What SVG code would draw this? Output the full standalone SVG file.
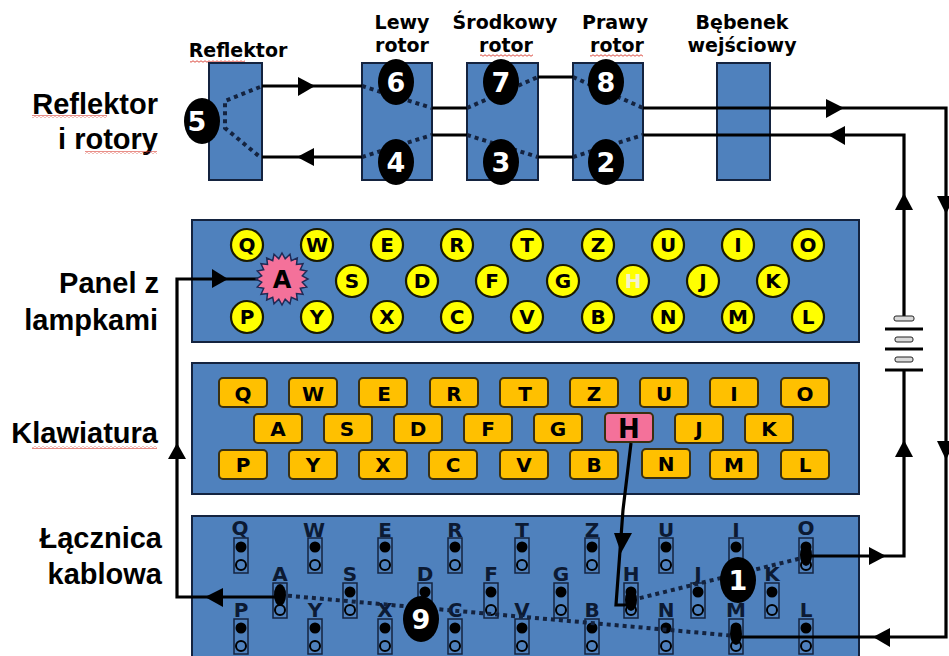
<svg xmlns="http://www.w3.org/2000/svg" width="949" height="656" viewBox="0 0 949 656">
<style>
.box{fill:#4f81bd;stroke:#14233f;stroke-width:2}
.wire{fill:none;stroke:#000;stroke-width:3.2}
.dot{fill:none;stroke:#14233f;stroke-width:4;stroke-dasharray:4 4}
.head{fill:#000}
.blob{fill:#000}
.num{font:bold 27px "DejaVu Sans",sans-serif;fill:#fff;text-anchor:middle}
.side{font:bold 29px "Liberation Sans",Arial,sans-serif;fill:#000;text-anchor:end}
.cap{font:bold 19px "DejaVu Sans",sans-serif;fill:#000;text-anchor:middle}
.lamp{fill:#ffff00;stroke:#1a1a00;stroke-width:2.2}
.key{fill:#ffc000;stroke:#3a3010;stroke-width:2}
.ltr{font:bold 20px "DejaVu Sans",sans-serif;fill:#000;text-anchor:middle}
.plug{font:bold 20px "DejaVu Sans",sans-serif;fill:#0c1a33;text-anchor:middle}
.sock{fill:none;stroke:#14233f;stroke-width:1.5}
.hole{fill:none;stroke:#000;stroke-width:2}
.pin{fill:#000}
.cell{fill:#d9d9d9;stroke:#222;stroke-width:1}
</style>
<defs>
<g id="s"><rect class="sock" x="-7" y="0" width="14" height="35"/><circle class="pin" cx="0" cy="9" r="5.5"/><circle class="hole" cx="0" cy="27" r="5"/></g>
<pattern id="wave" width="4" height="3" patternUnits="userSpaceOnUse"><path d="M0 1.5Q1 0 2 1.5T4 1.5" fill="none" stroke="#d8392b" stroke-width="0.9"/></pattern>
</defs>

<g id="labels">
<text class="side" x="158" y="114">Reflektor</text>
<text class="side" x="158" y="149">i rotory</text>
<text class="side" x="159" y="293">Panel z</text>
<text class="side" x="158" y="330">lampkami</text>
<text class="side" x="158" y="443">Klawiatura</text>
<text class="side" x="162" y="548">Łącznica</text>
<text class="side" x="162" y="584">kablowa</text>
<text class="cap" x="238" y="57">Reflektor</text>
<text class="cap" x="402" y="29">Lewy</text>
<text class="cap" x="402" y="52">rotor</text>
<text class="cap" x="505" y="29">Środkowy</text>
<text class="cap" x="506" y="52">rotor</text>
<text class="cap" x="615" y="29">Prawy</text>
<text class="cap" x="617" y="52">rotor</text>
<text class="cap" x="742" y="29">Bębenek</text>
<text class="cap" x="742" y="52">wejściowy</text>
<rect fill="url(#wave)" x="32" y="115" width="75" height="3"/>
<rect fill="url(#wave)" x="85" y="151" width="72" height="3"/>
<rect fill="url(#wave)" x="32" y="446" width="125" height="3"/>
<rect fill="url(#wave)" x="190" y="60" width="55" height="3"/>
<rect fill="url(#wave)" x="480" y="54" width="53" height="3"/>
<rect fill="url(#wave)" x="590" y="54" width="53" height="3"/>
</g>

<g id="rotor-reflektor"><rect class="box" x="209" y="63" width="53" height="117"/></g>
<g id="rotor-lewy"><rect class="box" x="362" y="63" width="70" height="117"/></g>
<g id="rotor-srodkowy"><rect class="box" x="467" y="63" width="71" height="117"/></g>
<g id="rotor-prawy"><rect class="box" x="573" y="63" width="70" height="117"/></g>
<g id="rotor-bebenek"><rect class="box" x="717" y="63" width="53" height="117"/></g>

<g id="panel">
<rect class="box" x="192" y="220" width="667" height="122"/>
<g id="lamps">
<circle class="lamp" cx="247" cy="245" r="16"/><text class="ltr" x="247" y="252">Q</text>
<circle class="lamp" cx="317" cy="245" r="16"/><text class="ltr" x="317" y="252">W</text>
<circle class="lamp" cx="387" cy="245" r="16"/><text class="ltr" x="387" y="252">E</text>
<circle class="lamp" cx="457" cy="245" r="16"/><text class="ltr" x="457" y="252">R</text>
<circle class="lamp" cx="527" cy="245" r="16"/><text class="ltr" x="527" y="252">T</text>
<circle class="lamp" cx="598" cy="245" r="16"/><text class="ltr" x="598" y="252">Z</text>
<circle class="lamp" cx="668" cy="245" r="16"/><text class="ltr" x="668" y="252">U</text>
<circle class="lamp" cx="738" cy="245" r="16"/><text class="ltr" x="738" y="252">I</text>
<circle class="lamp" cx="808" cy="245" r="16"/><text class="ltr" x="808" y="252">O</text>
<circle class="lamp" cx="352" cy="281" r="16"/><text class="ltr" x="352" y="288">S</text>
<circle class="lamp" cx="422" cy="281" r="16"/><text class="ltr" x="422" y="288">D</text>
<circle class="lamp" cx="492" cy="281" r="16"/><text class="ltr" x="492" y="288">F</text>
<circle class="lamp" cx="563" cy="281" r="16"/><text class="ltr" x="563" y="288">G</text>
<circle class="lamp" cx="633" cy="281" r="16"/><text class="ltr" x="633" y="288" style="fill:#f2f2d0">H</text>
<circle class="lamp" cx="703" cy="281" r="16"/><text class="ltr" x="703" y="288">J</text>
<circle class="lamp" cx="773" cy="281" r="16"/><text class="ltr" x="773" y="288">K</text>
<circle class="lamp" cx="247" cy="317" r="16"/><text class="ltr" x="247" y="324">P</text>
<circle class="lamp" cx="317" cy="317" r="16"/><text class="ltr" x="317" y="324">Y</text>
<circle class="lamp" cx="387" cy="317" r="16"/><text class="ltr" x="387" y="324">X</text>
<circle class="lamp" cx="457" cy="317" r="16"/><text class="ltr" x="457" y="324">C</text>
<circle class="lamp" cx="527" cy="317" r="16"/><text class="ltr" x="527" y="324">V</text>
<circle class="lamp" cx="598" cy="317" r="16"/><text class="ltr" x="598" y="324">B</text>
<circle class="lamp" cx="668" cy="317" r="16"/><text class="ltr" x="668" y="324">N</text>
<circle class="lamp" cx="738" cy="317" r="16"/><text class="ltr" x="738" y="324">M</text>
<circle class="lamp" cx="808" cy="317" r="16"/><text class="ltr" x="808" y="324">L</text>
</g>
</g>

<g id="keyboard">
<rect class="box" x="192" y="363" width="667" height="131"/>
<g id="keys">
<rect class="key" x="219" y="378" width="48" height="29" rx="4"/><text class="ltr" x="243" y="401">Q</text>
<rect class="key" x="289" y="378" width="48" height="29" rx="4"/><text class="ltr" x="313" y="401">W</text>
<rect class="key" x="359" y="378" width="48" height="29" rx="4"/><text class="ltr" x="384" y="401">E</text>
<rect class="key" x="430" y="378" width="48" height="29" rx="4"/><text class="ltr" x="454" y="401">R</text>
<rect class="key" x="500" y="378" width="48" height="29" rx="4"/><text class="ltr" x="525" y="401">T</text>
<rect class="key" x="570" y="378" width="48" height="29" rx="4"/><text class="ltr" x="594" y="401">Z</text>
<rect class="key" x="640" y="378" width="48" height="29" rx="4"/><text class="ltr" x="664" y="401">U</text>
<rect class="key" x="710" y="378" width="48" height="29" rx="4"/><text class="ltr" x="734" y="401">I</text>
<rect class="key" x="781" y="378" width="48" height="29" rx="4"/><text class="ltr" x="805" y="401">O</text>
<rect class="key" x="254" y="414" width="48" height="29" rx="4"/><text class="ltr" x="278" y="436">A</text>
<rect class="key" x="324" y="414" width="48" height="29" rx="4"/><text class="ltr" x="347" y="436">S</text>
<rect class="key" x="394" y="414" width="48" height="29" rx="4"/><text class="ltr" x="418" y="436">D</text>
<rect class="key" x="464" y="414" width="48" height="29" rx="4"/><text class="ltr" x="488" y="436">F</text>
<rect class="key" x="534" y="414" width="48" height="29" rx="4"/><text class="ltr" x="558" y="436">G</text>
<rect class="key" x="605" y="413" width="48" height="29" rx="4" style="fill:#f4719a"/><text class="ltr" x="629" y="438" style="font-size:26px">H</text>
<rect class="key" x="675" y="414" width="48" height="29" rx="4"/><text class="ltr" x="699" y="436">J</text>
<rect class="key" x="745" y="414" width="48" height="29" rx="4"/><text class="ltr" x="769" y="436">K</text>
<rect class="key" x="219" y="450" width="48" height="29" rx="4"/><text class="ltr" x="243" y="472">P</text>
<rect class="key" x="289" y="450" width="48" height="29" rx="4"/><text class="ltr" x="313" y="472">Y</text>
<rect class="key" x="359" y="450" width="48" height="29" rx="4"/><text class="ltr" x="383" y="472">X</text>
<rect class="key" x="429" y="450" width="48" height="29" rx="4"/><text class="ltr" x="453" y="472">C</text>
<rect class="key" x="500" y="450" width="48" height="29" rx="4"/><text class="ltr" x="524" y="472">V</text>
<rect class="key" x="570" y="450" width="48" height="29" rx="4"/><text class="ltr" x="594" y="472">B</text>
<rect class="key" x="642" y="449" width="48" height="29" rx="4"/><text class="ltr" x="666" y="471">N</text>
<rect class="key" x="710" y="450" width="48" height="29" rx="4"/><text class="ltr" x="734" y="472">M</text>
<rect class="key" x="781" y="450" width="48" height="29" rx="4"/><text class="ltr" x="805" y="472">L</text>
</g>
</g>

<g id="plugboard">
<rect class="box" x="192" y="516" width="667" height="142"/>
<g id="sockets">
<use href="#s" x="241" y="538"/><text class="plug" x="240" y="535">Q</text>
<use href="#s" x="315" y="538"/><text class="plug" x="314" y="537">W</text>
<use href="#s" x="385" y="538"/><text class="plug" x="385" y="537">E</text>
<use href="#s" x="455" y="538"/><text class="plug" x="455" y="537">R</text>
<use href="#s" x="522" y="538"/><text class="plug" x="522" y="537">T</text>
<use href="#s" x="592" y="538"/><text class="plug" x="592" y="537">Z</text>
<use href="#s" x="666" y="538"/><text class="plug" x="666" y="537">U</text>
<use href="#s" x="736" y="538"/><text class="plug" x="736" y="537">I</text>
<use href="#s" x="806" y="538"/><text class="plug" x="806" y="535">O</text>
<use href="#s" x="280" y="583"/><text class="plug" x="280" y="581">A</text>
<use href="#s" x="350" y="583"/><text class="plug" x="350" y="581">S</text>
<use href="#s" x="425" y="583"/><text class="plug" x="425" y="581">D</text>
<use href="#s" x="491" y="583"/><text class="plug" x="491" y="581">F</text>
<use href="#s" x="561" y="583"/><text class="plug" x="561" y="581">G</text>
<use href="#s" x="631" y="583"/><text class="plug" x="631" y="581">H</text>
<use href="#s" x="698" y="583"/><text class="plug" x="698" y="581">J</text>
<use href="#s" x="772" y="583"/><text class="plug" x="772" y="581">K</text>
<use href="#s" x="241" y="619"/><text class="plug" x="241" y="617">P</text>
<use href="#s" x="315" y="619"/><text class="plug" x="315" y="617">Y</text>
<use href="#s" x="385" y="619"/><text class="plug" x="385" y="617">X</text>
<use href="#s" x="455" y="619"/><text class="plug" x="455" y="617">C</text>
<use href="#s" x="522" y="619"/><text class="plug" x="522" y="617">V</text>
<use href="#s" x="592" y="619"/><text class="plug" x="592" y="617">B</text>
<use href="#s" x="666" y="619"/><text class="plug" x="666" y="617">N</text>
<use href="#s" x="736" y="619"/><text class="plug" x="736" y="617">M</text>
<use href="#s" x="806" y="619"/><text class="plug" x="806" y="617">L</text>
</g>
</g>

<g id="connectors">
<path class="wire" d="M262 86H362M262 157H362M432 108H467M432 135H467M538 77H573M538 157H573"/>
<path class="wire" d="M643 108H946V637H736"/>
<path class="wire" d="M643 135H904V316"/>
<path class="wire" d="M904 370V556H806"/>
<path class="wire" d="M260 279H177V597H280"/>
<path class="wire" d="M631 443L623 510L616 605H632"/>
<path class="dot" d="M260 87L225 101V128L260 157"/>
<path class="dot" d="M362 86L432 108M362 157L432 135M467 108L538 77M467 135L538 157M573 77L643 108M573 157L643 135"/>
<path class="dot" d="M632 600L806 557"/>
<path class="dot" d="M280 595L736 636"/>
<polygon class="head" points="298,77 315,86 298,96"/>
<polygon class="head" points="314,148 297,157 314,166"/>
<polygon class="head" points="826,99 844,108 826,118"/>
<polygon class="head" points="845,126 828,135 845,145"/>
<polygon class="head" points="895,210 904,193 913,210"/>
<polygon class="head" points="937,196 946,214 955,196"/>
<polygon class="head" points="895,457 904,440 913,457"/>
<polygon class="head" points="937,441 946,460 955,441"/>
<polygon class="head" points="212,269 228,279 212,288"/>
<polygon class="head" points="223,588 205,597 223,607"/>
<polygon class="head" points="168,459 177,443 186,459"/>
<polygon class="head" points="614,533 632,533 621,553"/>
<polygon class="head" points="890,628 873,637 890,647"/>
<polygon class="head" points="869,547 886,556 869,565"/>
<ellipse class="blob" cx="280" cy="595" rx="6" ry="11"/>
<ellipse class="blob" cx="631" cy="600" rx="6" ry="11"/>
<ellipse class="blob" cx="806" cy="555" rx="6" ry="11"/>
<ellipse class="blob" cx="736" cy="634" rx="6" ry="11"/>
</g>

<g id="battery">
<rect class="cell" x="894" y="316" width="20" height="5" rx="2"/>
<rect class="cell" x="895" y="337" width="18" height="5" rx="2"/>
<rect class="cell" x="895" y="357" width="18" height="5" rx="2"/>
<path d="M885 329H923M885 349H923M885 370H923" stroke="#000" stroke-width="3" fill="none"/>
</g>

<g id="lamp-a">
<polygon points="282,253 285.2,258.8 290,254.3 291.3,260.7 297.3,258 296.5,264.5 303,263.7 300.3,269.7 306.7,271 302.3,275.8 308,279 302.3,282.2 306.7,287 300.3,288.3 303,294.3 296.5,293.5 297.3,300 291.3,297.3 290,303.7 285.2,299.2 282,305 278.8,299.2 274,303.7 272.7,297.3 266.7,300 267.5,293.5 261,294.3 263.7,288.3 257.3,287 261.7,282.2 256,279 261.7,275.8 257.3,271 263.7,269.7 261,263.7 267.5,264.5 266.7,258 272.7,260.7 274,254.3 278.8,258.8" fill="#f4719a" stroke="#1f2a55" stroke-width="1.5"/>
<text class="ltr" x="282" y="288" style="font-size:24px">A</text>
</g>

<g id="n1"><ellipse class="blob" cx="738" cy="580" rx="18" ry="23"/><text class="num" x="738" y="590">1</text></g>
<g id="n2"><ellipse class="blob" cx="606" cy="162" rx="18" ry="23"/><text class="num" x="606" y="172">2</text></g>
<g id="n3"><ellipse class="blob" cx="501" cy="162" rx="18" ry="23"/><text class="num" x="501" y="172">3</text></g>
<g id="n4"><ellipse class="blob" cx="396" cy="162" rx="18" ry="23"/><text class="num" x="396" y="172">4</text></g>
<g id="n5"><ellipse class="blob" cx="202" cy="121" rx="18" ry="23"/><text class="num" x="197" y="131">5</text></g>
<g id="n6"><ellipse class="blob" cx="396" cy="82" rx="18" ry="23"/><text class="num" x="396" y="92">6</text></g>
<g id="n7"><ellipse class="blob" cx="501" cy="82" rx="18" ry="23"/><text class="num" x="501" y="92">7</text></g>
<g id="n8"><ellipse class="blob" cx="606" cy="82" rx="18" ry="23"/><text class="num" x="606" y="92">8</text></g>
<g id="n9"><ellipse class="blob" cx="421" cy="619" rx="18" ry="23"/><text class="num" x="421" y="629">9</text></g>
</svg>
